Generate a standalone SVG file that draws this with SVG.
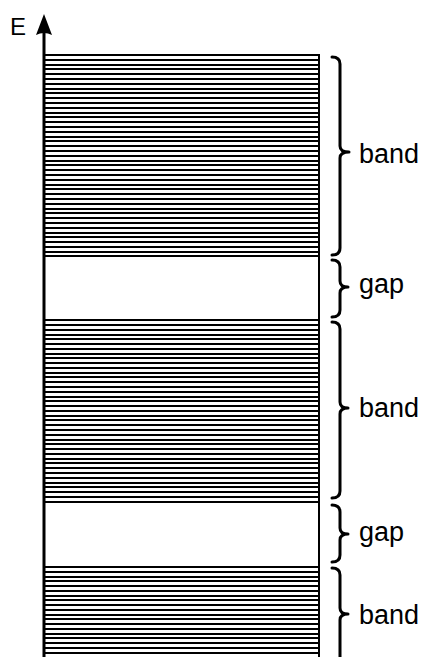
<svg xmlns="http://www.w3.org/2000/svg" width="427" height="657" viewBox="0 0 427 657">
<style>
.lines{stroke:#000;stroke-width:2.2;fill:none}
.edge{stroke:#000;stroke-width:2;fill:none}
.axis{stroke:#000;stroke-width:3;fill:none}
.brace{stroke:#000;stroke-width:3;fill:none;stroke-linecap:round;stroke-linejoin:round}
.lbl{font-family:"Liberation Sans",Arial,sans-serif;font-size:27px;fill:#000}
</style>
<rect width="427" height="657" fill="#fff"/>
<g id="bands">
<g id="band1">
<path class="lines" d="M45 55H319M45 60H319M45 65H319M45 69H319M45 74H319M45 79H319M45 84H319M45 89H319M45 93H319M45 98H319M45 103H319M45 108H319M45 113H319M45 117H319M45 122H319M45 127H319M45 132H319M45 137H319M45 141H319M45 146H319M45 151H319M45 156H319M45 161H319M45 165H319M45 170H319M45 175H319M45 180H319M45 185H319M45 189H319M45 194H319M45 199H319M45 204H319M45 209H319M45 213H319M45 218H319M45 223H319M45 228H319M45 233H319M45 237H319M45 242H319M45 247H319M45 252H319M45 256H319"/>
</g>
<g id="gap1"></g>
<g id="band2">
<path class="lines" d="M45 320H319M45 325H319M45 330H319M45 335H319M45 339H319M45 344H319M45 349H319M45 354H319M45 358H319M45 363H319M45 368H319M45 373H319M45 377H319M45 382H319M45 387H319M45 392H319M45 397H319M45 401H319M45 406H319M45 411H319M45 416H319M45 420H319M45 425H319M45 430H319M45 435H319M45 440H319M45 444H319M45 449H319M45 454H319M45 459H319M45 463H319M45 468H319M45 473H319M45 478H319M45 483H319M45 487H319M45 492H319M45 497H319M45 502H319"/>
</g>
<g id="gap2"></g>
<g id="band3">
<path class="lines" d="M45 567H319M45 572H319M45 577H319M45 581H319M45 586H319M45 591H319M45 596H319M45 600H319M45 605H319M45 610H319M45 615H319M45 619H319M45 624H319M45 629H319M45 634H319M45 638H319M45 643H319M45 648H319M45 653H319"/>
</g>
<line class="edge" x1="319" y1="54" x2="319" y2="657"/>
</g>
<g id="axis">
<line class="axis" x1="44" y1="657" x2="44" y2="28"/>
<path d="M44 14 L52 35 Q44 31 36 35 Z" fill="#000"/>
<text x="10" y="35" font-family="Liberation Sans, Arial, sans-serif" font-size="24">E</text>
</g>
<g id="braces">
<path class="brace" d="M332 57 Q340 57 340 64 V146 Q340 152 349 152 Q340 152 340 158 V248 Q340 255 332 255"/>
<path class="brace" d="M332 260 Q340 260 340 267 V281 Q340 287 348 287 Q340 287 340 293 V310 Q340 317 332 317"/>
<path class="brace" d="M332 322 Q340 322 340 329 V402 Q340 408 348 408 Q340 408 340 414 V491 Q340 498 332 498"/>
<path class="brace" d="M332 505 Q340 505 340 512 V528 Q340 534 348 534 Q340 534 340 540 V555 Q340 562 332 562"/>
<path class="brace" d="M332 568 Q340 568 340 575 V608 Q340 614 348 614 Q340 614 340 620 V670"/>
</g>
<g id="labels">
<text class="lbl" x="359" y="163">band</text>
<text class="lbl" x="359" y="293">gap</text>
<text class="lbl" x="359" y="417">band</text>
<text class="lbl" x="359" y="541">gap</text>
<text class="lbl" x="359" y="624">band</text>
</g>
</svg>
